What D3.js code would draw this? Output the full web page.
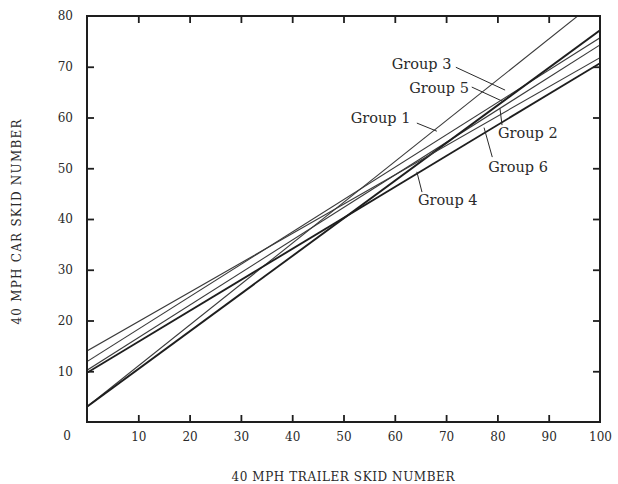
<!DOCTYPE html>
<html>
<head>
<meta charset="utf-8">
<script src="https://cdn.jsdelivr.net/npm/d3@7"></script>
<style>
  html, body { margin: 0; padding: 0; background: #fff; }
  text { font-family: "DejaVu Serif", "Liberation Serif", serif; fill: #2a2a2a; }
</style>
</head>
<body>
<svg id="chart" width="618" height="484"></svg>
<script>
// ---- data ----
const groups      = ["Group 1", "Group 2", "Group 3", "Group 4", "Group 5", "Group 6"];
const atTrailer0  = [3.0, 10.2, 11.9, 9.7, 3.0, 14.0];    // car skid number at trailer = 0
const atTrailer100= [83.5, 74.3, 75.7, 70.7, 77.2, 71.8]; // car skid number at trailer = 100
const heavy       = [false, false, false, true, true, false];

const xTicks = [10, 20, 30, 40, 50, 60, 70, 80, 90, 100];
const yTicks = [10, 20, 30, 40, 50, 60, 70, 80];

// label positions (data units): text start x, baseline y, leader from (x1,y1) to (x2,y2)
const labelX  = [51.4, 80.1, 59.4, 64.5, 62.8, 78.2];
const labelY  = [58.9, 55.9, 69.6, 42.7, 64.8, 49.3];
const leadX1  = [64.3, 80.9, 71.9, 65.3, 75.0, 79.0];
const leadY1  = [58.9, 58.5, 69.9, 45.3, 66.0, 52.2];
const leadX2  = [68.2, 80.5, 81.5, 64.3, 81.0, 77.4];
const leadY2  = [57.3, 61.8, 65.4, 49.3, 63.2, 58.0];

// ---- layout ----
const svg = d3.select("#chart");
const x = d3.scaleLinear().domain([0, 100]).range([87, 600]);
const y = d3.scaleLinear().domain([0, 80]).range([422, 16]);

svg.append("defs").append("clipPath").attr("id", "plot")
  .append("rect")
  .attr("x", x(0)).attr("y", y(80))
  .attr("width", x(100) - x(0)).attr("height", y(0) - y(80));

// regression lines
const lineGen = d3.line().x(d => x(d[0])).y(d => y(d[1]));
const g = svg.append("g").attr("clip-path", "url(#plot)");
groups.forEach((name, i) => {
  g.append("path")
    .attr("d", lineGen([[0, atTrailer0[i]], [100, atTrailer100[i]]]))
    .attr("fill", "none")
    .attr("stroke", heavy[i] ? "#1e1e1e" : "#3a3a3a")
    .attr("stroke-width", heavy[i] ? 1.9 : 1.1);
});

// axes with inward ticks
function styleAxis(sel) {
  sel.select(".domain").remove();
  sel.selectAll(".tick line").attr("stroke", "#1e1e1e").attr("stroke-width", 1.8);
  sel.selectAll(".tick text").attr("font-size", 12).attr("fill", "#2a2a2a")
    .style("font-family", '"DejaVu Serif", serif');
}
svg.append("g").attr("transform", `translate(0,${y(0)})`)
  .call(d3.axisBottom(x).tickValues(xTicks).tickSize(-7).tickPadding(10).tickFormat(d3.format("d")))
  .call(styleAxis)
  .call(s => s.selectAll(".tick").filter(d => d === 100).select("line").remove());
svg.append("g").attr("transform", `translate(0,${y(80)})`)
  .call(d3.axisTop(x).tickValues(xTicks.filter(d => d < 100)).tickSize(-7).tickFormat(""))
  .call(styleAxis);
svg.append("g").attr("transform", `translate(${x(0)},0)`)
  .call(d3.axisLeft(y).tickValues(yTicks).tickSize(-7).tickPadding(14).tickFormat(d3.format("d")))
  .call(styleAxis)
  .call(s => s.selectAll(".tick").filter(d => d === 80).select("line").remove());
svg.append("g").attr("transform", `translate(${x(100)},0)`)
  .call(d3.axisRight(y).tickValues(yTicks.filter(d => d < 80)).tickSize(-7).tickFormat(""))
  .call(styleAxis);

// origin label
svg.append("text").attr("x", x(0) - 20).attr("y", y(0) + 18)
  .attr("font-size", 12).attr("text-anchor", "middle").text("0");

// frame
svg.append("rect")
  .attr("x", x(0)).attr("y", y(80))
  .attr("width", x(100) - x(0)).attr("height", y(0) - y(80))
  .attr("fill", "none").attr("stroke", "#1e1e1e").attr("stroke-width", 2);

// group labels with leaders
groups.forEach((name, i) => {
  svg.append("line")
    .attr("x1", x(leadX1[i])).attr("y1", y(leadY1[i]))
    .attr("x2", x(leadX2[i])).attr("y2", y(leadY2[i]))
    .attr("stroke", "#2a2a2a").attr("stroke-width", 1);
  svg.append("text")
    .attr("x", x(labelX[i])).attr("y", y(labelY[i]))
    .attr("font-size", 14.5)
    .text(name);
});

// axis titles
svg.append("text")
  .attr("x", 343).attr("y", 481)
  .attr("text-anchor", "middle").attr("font-size", 12)
  .attr("textLength", 223).attr("lengthAdjust", "spacing")
  .text("40 MPH TRAILER SKID NUMBER");
svg.append("text")
  .attr("transform", "translate(21,222) rotate(-90)")
  .attr("text-anchor", "middle").attr("font-size", 12)
  .attr("textLength", 205).attr("lengthAdjust", "spacing")
  .text("40 MPH CAR SKID NUMBER");
</script>
</body>
</html>
